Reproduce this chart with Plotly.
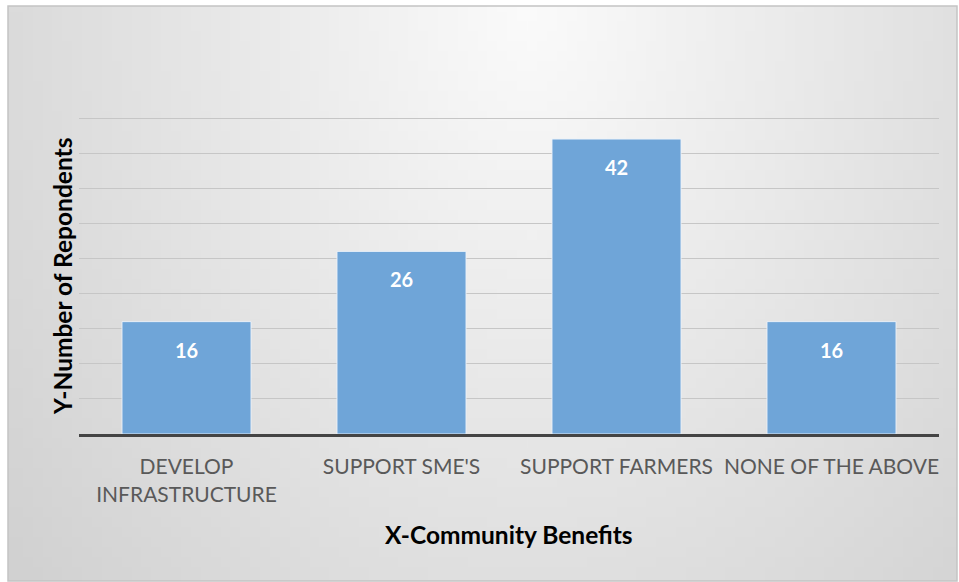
import plotly.graph_objects as go
import zlib, struct, base64, math

categories = ["DEVELOP<br>INFRASTRUCTURE", "SUPPORT SME'S", "SUPPORT FARMERS", "NONE OF THE ABOVE"]
values = [16, 26, 42, 16]
y_grid_ticks = [0, 5, 10, 15, 20, 25, 30, 35, 40, 45]

W, H = 959, 582
ML, MR, MT, MB = 79, 20, 116, 148
PW, PH = W - ML - MR, H - MT - MB
Y_MAX = 45 * PH / (PH - 2)

FONT = "Lato, Open Sans, sans-serif"


def gradient_png(w, h):
    rows = b""
    for j in range(h):
        v = j / (h - 1)
        row = bytearray([0])
        for i in range(w):
            u = i / (w - 1)
            dx = (u - 0.55) / 0.55
            d = math.sqrt(dx * dx + (0.85 * v) ** 2)
            c = int(max(204, min(251, 251 - 32 * d)))
            row += bytes([c, c, c])
        rows += bytes(row)

    def chunk(t, data):
        c = struct.pack(">I", len(data)) + t + data
        return c + struct.pack(">I", zlib.crc32(t + data) & 0xFFFFFFFF)

    png = b"\x89PNG\r\n\x1a\n"
    png += chunk(b"IHDR", struct.pack(">IIBBBBB", w, h, 8, 2, 0, 0, 0))
    png += chunk(b"IDAT", zlib.compress(rows))
    png += chunk(b"IEND", b"")
    return "data:image/png;base64," + base64.b64encode(png).decode()


def px2paper_x(px):
    return (px - ML) / PW


def px2paper_y(py):
    return 1 - (py - MT) / PH


bx0, by0, bx1, by1 = 8, 6, 957, 581

fig = go.Figure()
fig.add_trace(go.Bar(
    x=categories, y=values, width=0.6,
    marker=dict(color="#6fa5d8", line=dict(color="rgba(235,242,250,0.9)", width=1)),
    hoverinfo="skip",
))

for c, v in zip(categories, values):
    fig.add_annotation(x=c, y=v, xref="x", yref="y", text=f"<b>{v}</b>", showarrow=False,
                       yshift=-28, xanchor="center", yanchor="middle",
                       font=dict(family=FONT, size=20, color="white"))

fig.add_layout_image(dict(
    source=gradient_png(96, 58), xref="paper", yref="paper",
    x=px2paper_x(bx0), y=px2paper_y(by0),
    sizex=(bx1 - bx0) / PW, sizey=(by1 - by0) / PH,
    sizing="stretch", xanchor="left", yanchor="top", layer="below",
))
fig.add_shape(type="rect", xref="paper", yref="paper",
              x0=px2paper_x(bx0), x1=px2paper_x(bx1), y0=px2paper_y(by1), y1=px2paper_y(by0),
              line=dict(color="#c4c4c4", width=1.5), fillcolor="rgba(0,0,0,0)", layer="below")

fig.add_annotation(xref="paper", yref="paper", x=px2paper_x(509), y=px2paper_y(534),
                   xanchor="center", yanchor="middle",
                   text="<b>X-Community Benefits</b>", showarrow=False,
                   font=dict(family=FONT, size=24.5, color="black"))
fig.add_annotation(xref="paper", yref="paper", x=px2paper_x(62), y=px2paper_y(277),
                   xanchor="center", yanchor="middle",
                   text="<b>Y-Number of Repondents</b>", showarrow=False, textangle=-90,
                   font=dict(family=FONT, size=24.5, color="black"))

fig.update_layout(
    width=W, height=H,
    margin=dict(l=ML, r=MR, t=MT, b=MB),
    paper_bgcolor="white", plot_bgcolor="rgba(0,0,0,0)",
    showlegend=False,
    xaxis=dict(
        showgrid=False, ticks="", showline=True, linecolor="#444444", linewidth=3,
        tickfont=dict(family=FONT, size=21, color="#595959"),
        ticklabelstandoff=12, tickangle=0,
        fixedrange=True,
    ),
    yaxis=dict(
        range=[0, Y_MAX], tickvals=y_grid_ticks, showticklabels=False, showgrid=True,
        gridcolor="#c6c6c6", gridwidth=1, zeroline=False, showline=False, ticks="",
        fixedrange=True,
    ),
)

fig.write_html("out.html", config={"displayModeBar": False})
